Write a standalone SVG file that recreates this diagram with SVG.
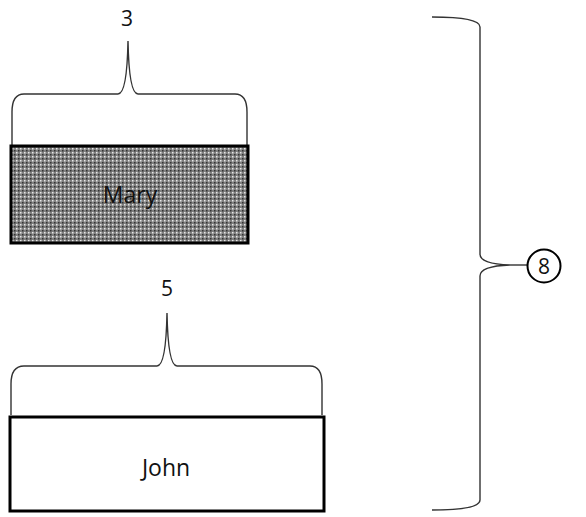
<svg xmlns="http://www.w3.org/2000/svg" width="586" height="517" viewBox="0 0 586 517">
<style>
  .lbl { font-family: "Open Sans", "Noto Sans", "Liberation Sans", sans-serif; font-size: 21px; fill: #111; text-anchor: middle; }
  .name { font-size: 23px; }
  .box { stroke: #000; stroke-width: 3; }
  .brace { fill: none; stroke: #333; stroke-width: 1.4; }
</style>
<defs>
  <pattern id="hatch" patternUnits="userSpaceOnUse" width="4" height="4">
    <rect width="4" height="4" fill="#808080"/>
    <rect x="0" y="0" width="1.5" height="1.5" fill="#e8e8e8"/>
    <rect x="2" y="2" width="1.5" height="1.5" fill="#333"/>
  </pattern>
</defs>
<rect width="586" height="517" fill="#fff"/>
<g id="connectors">
  <path class="brace" d="M12,145 L12,112 Q12,94 24,94 L118,94 Q127,94 128,41 Q129,94 138,94 L235,94 Q247,94 247,112 L247,145"/>
  <path class="brace" d="M11,415 L11,384 Q11,366 24,366 L157,366 Q166,366 167,313 Q168,366 177,366 L310,366 Q322,366 322,384 L322,415"/>
  <path class="brace" d="M432,17 Q480,17 480,27 L480,254 Q480,264 510,265 Q480,266 480,276 L480,500 Q480,510 432,510"/>
  <line x1="510" y1="265" x2="527" y2="265" stroke="#333" stroke-width="1.4"/>
</g>
<g id="mary">
  <rect class="box" x="11" y="146" width="237" height="97" fill="url(#hatch)"/>
  <text class="lbl name" x="130" y="203" fill="#1a1a1a">Mary</text>
</g>
<g id="john">
  <rect class="box" x="10" y="417" width="314" height="94" fill="#fff"/>
  <text class="lbl name" x="166" y="476">John</text>
</g>
<g id="label3"><text class="lbl" x="127" y="26">3</text></g>
<g id="label5"><text class="lbl" x="167" y="296">5</text></g>
<g id="total">
  <circle cx="544" cy="266" r="16.5" fill="#fff" stroke="#000" stroke-width="2"/>
  <text class="lbl" x="544" y="273.5">8</text>
</g>
</svg>
